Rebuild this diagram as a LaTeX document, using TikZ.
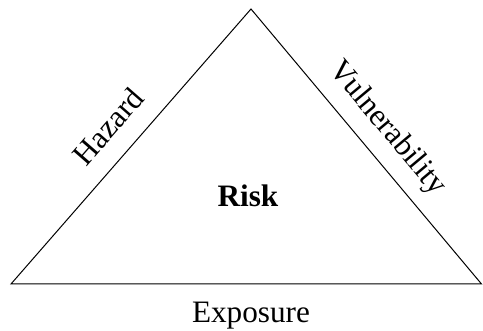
\documentclass[tikz,border=0pt]{standalone}
\usepackage{fontspec}
\setmainfont{Liberation Serif}
\usetikzlibrary{positioning}

\begin{document}
\begin{tikzpicture}[x=0.5pt, y=0.5pt, every node/.style={font=\fontsize{15.6}{18}\selectfont, inner sep=0pt}, side/.style={sloped, anchor=base, yshift=10pt}]
        \useasboundingbox (0,0) rectangle (483,331);
        \coordinate (top) at (251,322);
        \coordinate (left) at (11,47);
        \coordinate (right) at (481.5,47);
        \draw[line width=0.5pt] (left) -- (top) -- (right) -- cycle;
        \path (left) -- (top) node[side, midway] (hazard) {Hazard};
        \path (top) -- (right) node[side, midway] (vuln) {Vulnerability};
        \node[anchor=base, font=\fontsize{15.6}{18}\selectfont\bfseries] (risk) at (248,124) {Risk};
        \node[anchor=base] (exposure) at (251,8) {Exposure};
      \end{tikzpicture}
\end{document}
